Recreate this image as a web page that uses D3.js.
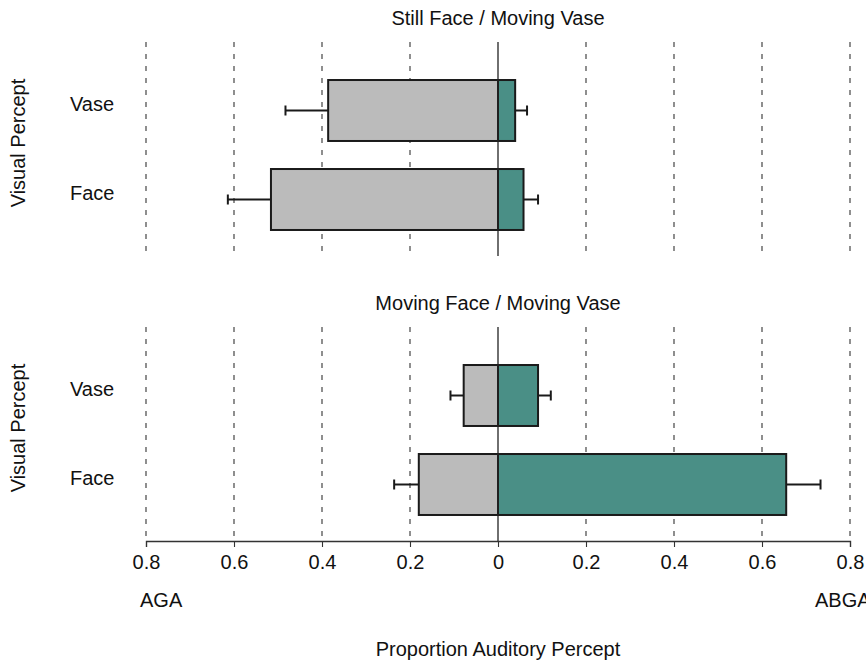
<!DOCTYPE html>
<html>
<head>
<meta charset="utf-8">
<script src="https://cdn.jsdelivr.net/npm/d3@7"></script>
<style>
  body { margin: 0; background: #fff; }
  text { font-family: "Liberation Sans", Arial, Helvetica, sans-serif; fill: #111; }
</style>
</head>
<body>
<svg id="chart" width="866" height="660"></svg>
<script>
// categories and panel titles
const percepts = ["Vase", "Face"];
const panelTitles = ["Still Face / Moving Vase", "Moving Face / Moving Vase"];
// proportion AGA (left) and ABGA (right) with error bar ends
const agaMean = [[0.386, 0.516], [0.078, 0.180]];
const agaErr  = [[0.483, 0.614], [0.108, 0.236]];
const abgaMean = [[0.039, 0.058], [0.091, 0.655]];
const abgaErr  = [[0.066, 0.091], [0.120, 0.733]];
const tickValues = [-0.8, -0.6, -0.4, -0.2, 0, 0.2, 0.4, 0.6, 0.8];

const svg = d3.select("#chart");
const x = d3.scaleLinear().domain([-0.8, 0.8]).range([146, 850]);
const panelTops = [42, 327];
const panelH = 214;
const fs = 20;

const gray = "#bbbbbb", teal = "#4a8f86", edge = "#1a1a1a";

panelTops.forEach((top, p) => {
    const g = svg.append("g");
    const y = d3.scaleBand()
        .domain(percepts)
        .range([top + 24, top + 24 + 178])
        .paddingInner(0.315)
        .paddingOuter(0.1575);

    // title
    g.append("text")
        .attr("x", x(0)).attr("y", top - 17)
        .attr("text-anchor", "middle")
        .attr("font-size", fs)
        .text(panelTitles[p]);

    // dashed grid lines
    g.selectAll("line.grid")
        .data(tickValues.filter(d => d !== 0))
        .join("line")
        .attr("class", "grid")
        .attr("x1", d => x(d)).attr("x2", d => x(d))
        .attr("y1", top).attr("y2", top + panelH)
        .attr("stroke", "#333")
        .attr("stroke-width", 1.1)
        .attr("stroke-dasharray", "5,7");

    const rows = percepts.map((c, i) => ({
        c, aga: agaMean[p][i], agaE: agaErr[p][i], abga: abgaMean[p][i], abgaE: abgaErr[p][i]
    }));

    // error bars
    rows.forEach(r => {
        const cy = y(r.c) + y.bandwidth() / 2;
        [[-r.aga, -r.agaE], [r.abga, r.abgaE]].forEach(([a, b]) => {
            g.append("line")
                .attr("x1", x(a)).attr("x2", x(b))
                .attr("y1", cy).attr("y2", cy)
                .attr("stroke", edge).attr("stroke-width", 2);
            g.append("line")
                .attr("x1", x(b)).attr("x2", x(b))
                .attr("y1", cy - 5).attr("y2", cy + 5)
                .attr("stroke", edge).attr("stroke-width", 2);
        });
    });

    g.selectAll("rect.aga")
        .data(rows)
        .join("rect")
        .attr("class", "aga")
        .attr("x", d => x(-d.aga))
        .attr("y", d => y(d.c))
        .attr("width", d => x(0) - x(-d.aga))
        .attr("height", y.bandwidth())
        .attr("fill", gray).attr("stroke", edge).attr("stroke-width", 2);

    g.selectAll("rect.abga")
        .data(rows)
        .join("rect")
        .attr("class", "abga")
        .attr("x", x(0))
        .attr("y", d => y(d.c))
        .attr("width", d => x(d.abga) - x(0))
        .attr("height", y.bandwidth())
        .attr("fill", teal).attr("stroke", edge).attr("stroke-width", 2);

    // zero line
    g.append("line")
        .attr("x1", x(0)).attr("x2", x(0))
        .attr("y1", top).attr("y2", top + panelH)
        .attr("stroke", "#222").attr("stroke-width", 1.3);

    // category labels
    g.selectAll("text.cat")
        .data(percepts)
        .join("text")
        .attr("class", "cat")
        .attr("x", 70)
        .attr("y", d => y(d) + y.bandwidth() / 2)
        .attr("text-anchor", "start")
        .attr("font-size", fs)
        .text(d => d);

    // y title
    g.append("text")
        .attr("transform", `translate(25,${top + 101}) rotate(-90)`)
        .attr("text-anchor", "middle")
        .attr("font-size", fs)
        .text("Visual Percept");
});

// x axis
const axisY = 541;
const axis = svg.append("g")
    .attr("transform", `translate(0,${axisY})`)
    .call(d3.axisBottom(x)
        .tickValues(tickValues)
        .tickSize(6)
        .tickPadding(8)
        .tickFormat(d => d === 0 ? "0" : d3.format(".1f")(Math.abs(d))));
axis.select(".domain").attr("stroke", "#333").attr("stroke-width", 1.3);
axis.selectAll(".tick line").attr("stroke", "#333").attr("stroke-width", 1.1);
axis.selectAll(".tick text")
    .attr("font-size", fs)
    .attr("font-family", "Liberation Sans, Arial, sans-serif")
    .attr("fill", "#111");

svg.append("text")
    .attr("x", 140).attr("y", 607)
    .attr("font-size", fs)
    .text("AGA");
svg.append("text")
    .attr("x", 815).attr("y", 607)
    .attr("font-size", fs)
    .text("ABGA");

svg.append("text")
    .attr("x", x(0)).attr("y", 656)
    .attr("text-anchor", "middle")
    .attr("font-size", fs)
    .text("Proportion Auditory Percept");
</script>
</body>
</html>
